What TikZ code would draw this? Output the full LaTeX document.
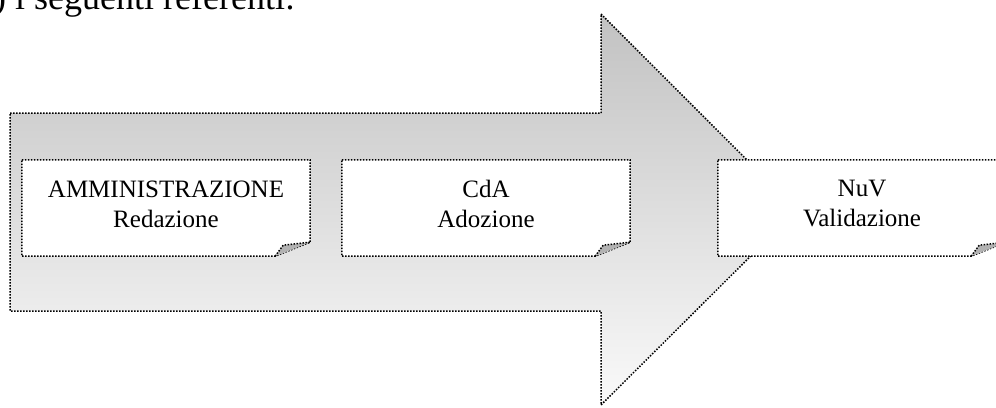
\documentclass[tikz,border=0pt]{standalone}
\usepackage{fontspec}
\setmainfont{Liberation Serif}
\usetikzlibrary{calc}
\begin{document}
\begin{tikzpicture}[x=1pt,y=-1pt]
%============================================================
%  Stili della freccia, dei fogli e dei testi
%============================================================
\tikzset{ % stili della figura
    % ---  bordi ------
    bordo/.style={ %
            draw=black,            % bordo nero
            line width=1.5pt,      % linea spessa
            dash pattern=on 1.5pt off 1.5pt % puntinata
        },
    freccia/.style={ %
            bordo,                 % stesso bordo
            top color=black!24,    % grigio in alto
            bottom color=black!2   % quasi bianco in basso
        },
    % ---  fogli ------
    foglio/.style={ %
            rectangle,             % forma rettangolare
            minimum width=288pt,   % larghezza
            minimum height=96pt,   % altezza
            inner sep=0pt
        },
    piega/.style={ %
            fill=black!30          % angolo ripiegato grigio
        },
    testo/.style={ %
            align=center,          % testo centrato
            font=\fontsize{25}{30}\selectfont
        },
    intestazione/.style={ %
            anchor=base west,
            inner sep=0pt,
            font=\fontsize{36}{42}\selectfont
        }
}

   % ritaglio della figura
   \clip (0,0) rectangle (996,407);

   % riga di testo tagliata in alto
   \node[intestazione] (titolo) at (-6,9) {) i seguenti referenti:};

   % freccia grande sullo sfondo
   \draw[freccia] (10,113) -- (601,113) -- (601,14) -- (797,210)
       -- (601,405) -- (601,311) -- (10,311) -- cycle;

   % i tre fogli
   \node[foglio] (f1) at (166,208) {};
   \node[foglio] (f2) at (486,208) {};
   \node[foglio] (f3) at (862,208) {};

   % contorno dei fogli con l'angolo tagliato
   \draw[bordo,fill=white] (f1.north west) -- (f1.north east) -- ($(f1.south east)+(0,-14)$)
       -- ($(f1.south east)+(-35,0)$) -- (f1.south west) -- cycle;
   \draw[bordo,fill=white] (f2.north west) -- (f2.north east) -- ($(f2.south east)+(0,-14)$)
       -- ($(f2.south east)+(-35,0)$) -- (f2.south west) -- cycle;
   \draw[bordo,fill=white] (f3.north west) -- (f3.north east) -- ($(f3.south east)+(0,-14)$)
       -- ($(f3.south east)+(-35,0)$) -- (f3.south west) -- cycle;

   % angoli ripiegati
   \fill[piega] ($(f1.south east)+(-35,0)$) -- ($(f1.south east)+(-27,-11)$) -- ($(f1.south east)+(0,-14)$) -- cycle;
   \draw[bordo] ($(f1.south east)+(-35,0)$) -- ($(f1.south east)+(-27,-11)$) -- ($(f1.south east)+(0,-14)$);
   \fill[piega] ($(f2.south east)+(-35,0)$) -- ($(f2.south east)+(-27,-11)$) -- ($(f2.south east)+(0,-14)$) -- cycle;
   \draw[bordo] ($(f2.south east)+(-35,0)$) -- ($(f2.south east)+(-27,-11)$) -- ($(f2.south east)+(0,-14)$);
   \fill[piega] ($(f3.south east)+(-35,0)$) -- ($(f3.south east)+(-27,-11)$) -- ($(f3.south east)+(0,-14)$) -- cycle;
   \draw[bordo] ($(f3.south east)+(-35,0)$) -- ($(f3.south east)+(-27,-11)$) -- ($(f3.south east)+(0,-14)$);

   % testi dei fogli
   \node[testo] (t1) at ([yshift=4pt]f1.center) {AMMINISTRAZIONE\\Redazione};
   \node[testo] (t2) at ([yshift=4pt]f2.center) {CdA\\Adozione};
   \node[testo] (t3) at ([yshift=4pt]f3.center) {NuV\\Validazione};
\end{tikzpicture}
\end{document}
